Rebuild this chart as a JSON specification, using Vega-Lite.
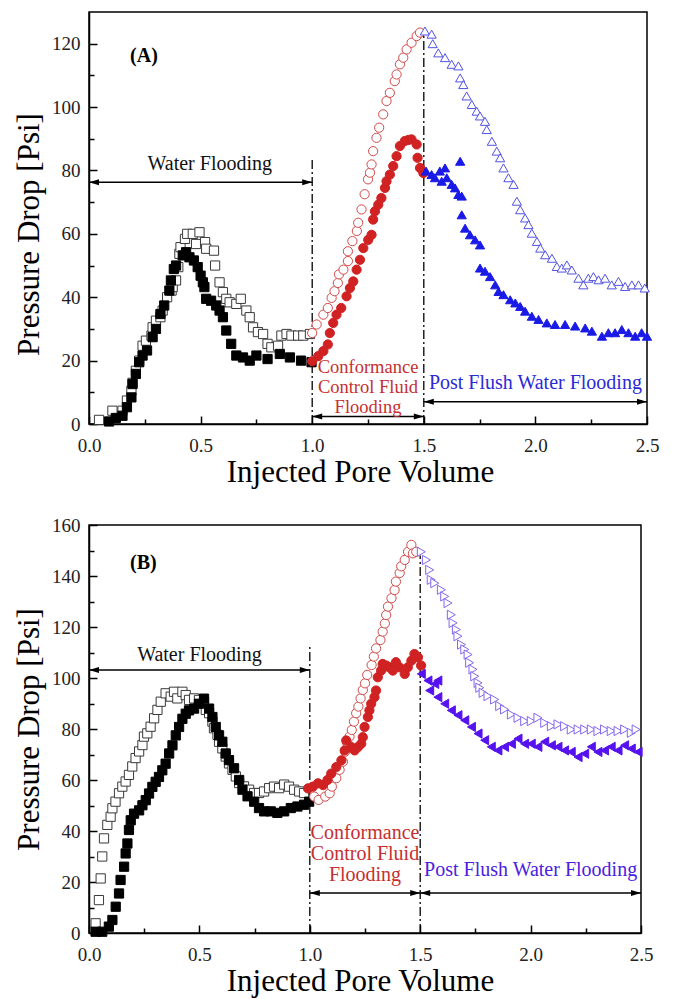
{
  "$schema": "https://vega.github.io/schema/vega-lite/v6.json",
  "padding": {"left": 12, "top": 11, "right": 5, "bottom": 2},
  "spacing": 27,
  "config": {
    "view": {"stroke": "black", "strokeWidth": 1.5},
    "font": "Liberation Serif",
    "axis": {"labelFont": "Liberation Serif", "titleFont": "Liberation Serif"},
    "text": {"font": "Liberation Serif"}
  },
  "resolve": {"scale": {"shape": "independent", "fill": "independent", "stroke": "independent"}},
  "datasets": {
    "A_pts": [
      {"x":0.045,"y":1.3,"s":"sq_o"},{"x":0.105,"y":4.2,"s":"sq_o"},{"x":0.15,"y":4.2,"s":"sq_o"},{"x":0.17,"y":7.4,"s":"sq_o"},{"x":0.19,"y":10.5,"s":"sq_o"},{"x":0.195,"y":13,"s":"sq_o"},{"x":0.21,"y":16.8,"s":"sq_o"},{"x":0.225,"y":20,"s":"sq_o"},{"x":0.24,"y":24.7,"s":"sq_o"},{"x":0.255,"y":26.3,"s":"sq_o"},{"x":0.28,"y":27.9,"s":"sq_o"},{"x":0.285,"y":30.5,"s":"sq_o"},{"x":0.3,"y":32.6,"s":"sq_o"},{"x":0.32,"y":33.7,"s":"sq_o"},{"x":0.33,"y":35.8,"s":"sq_o"},{"x":0.35,"y":40,"s":"sq_o"},{"x":0.37,"y":42.1,"s":"sq_o"},{"x":0.375,"y":43.2,"s":"sq_o"},{"x":0.39,"y":45.3,"s":"sq_o"},{"x":0.4,"y":49.5,"s":"sq_o"},{"x":0.405,"y":53.7,"s":"sq_o"},{"x":0.41,"y":55.8,"s":"sq_o"},{"x":0.43,"y":58.4,"s":"sq_o"},{"x":0.44,"y":60,"s":"sq_o"},{"x":0.465,"y":60,"s":"sq_o"},{"x":0.48,"y":56.8,"s":"sq_o"},{"x":0.495,"y":60.5,"s":"sq_o"},{"x":0.52,"y":57.4,"s":"sq_o"},{"x":0.525,"y":55.3,"s":"sq_o"},{"x":0.56,"y":54.7,"s":"sq_o"},{"x":0.565,"y":50,"s":"sq_o"},{"x":0.585,"y":44.7,"s":"sq_o"},{"x":0.6,"y":41.6,"s":"sq_o"},{"x":0.615,"y":39.5,"s":"sq_o"},{"x":0.63,"y":38.4,"s":"sq_o"},{"x":0.66,"y":37.9,"s":"sq_o"},{"x":0.68,"y":39.5,"s":"sq_o"},{"x":0.705,"y":35.8,"s":"sq_o"},{"x":0.72,"y":33.7,"s":"sq_o"},{"x":0.735,"y":30.5,"s":"sq_o"},{"x":0.757,"y":29,"s":"sq_o"},{"x":0.78,"y":28.4,"s":"sq_o"},{"x":0.8,"y":25.3,"s":"sq_o"},{"x":0.817,"y":24.2,"s":"sq_o"},{"x":0.847,"y":24.7,"s":"sq_o"},{"x":0.862,"y":27.9,"s":"sq_o"},{"x":0.885,"y":28.4,"s":"sq_o"},{"x":0.907,"y":27.9,"s":"sq_o"},{"x":0.937,"y":27.9,"s":"sq_o"},{"x":0.96,"y":27.9,"s":"sq_o"},{"x":0.99,"y":28.4,"s":"sq_o"},
      {"x":0.09,"y":0.8,"s":"sq_f"},{"x":0.12,"y":1.9,"s":"sq_f"},{"x":0.15,"y":2.6,"s":"sq_f"},{"x":0.17,"y":5.3,"s":"sq_f"},{"x":0.19,"y":8.4,"s":"sq_f"},{"x":0.195,"y":12.6,"s":"sq_f"},{"x":0.21,"y":15.8,"s":"sq_f"},{"x":0.225,"y":19.5,"s":"sq_f"},{"x":0.24,"y":21.6,"s":"sq_f"},{"x":0.26,"y":23.2,"s":"sq_f"},{"x":0.285,"y":27.4,"s":"sq_f"},{"x":0.3,"y":30,"s":"sq_f"},{"x":0.32,"y":34.7,"s":"sq_f"},{"x":0.337,"y":37.4,"s":"sq_f"},{"x":0.36,"y":42.1,"s":"sq_f"},{"x":0.367,"y":45.3,"s":"sq_f"},{"x":0.38,"y":48.9,"s":"sq_f"},{"x":0.39,"y":50,"s":"sq_f"},{"x":0.42,"y":53.2,"s":"sq_f"},{"x":0.435,"y":54.2,"s":"sq_f"},{"x":0.45,"y":52.6,"s":"sq_f"},{"x":0.47,"y":51.6,"s":"sq_f"},{"x":0.487,"y":49.5,"s":"sq_f"},{"x":0.5,"y":46.8,"s":"sq_f"},{"x":0.51,"y":44.7,"s":"sq_f"},{"x":0.517,"y":43.2,"s":"sq_f"},{"x":0.525,"y":39.5,"s":"sq_f"},{"x":0.547,"y":38.9,"s":"sq_f"},{"x":0.57,"y":37.4,"s":"sq_f"},{"x":0.585,"y":35.8,"s":"sq_f"},{"x":0.6,"y":33.7,"s":"sq_f"},{"x":0.615,"y":29.5,"s":"sq_f"},{"x":0.637,"y":25.3,"s":"sq_f"},{"x":0.66,"y":21.6,"s":"sq_f"},{"x":0.69,"y":21,"s":"sq_f"},{"x":0.72,"y":20,"s":"sq_f"},{"x":0.75,"y":21.6,"s":"sq_f"},{"x":0.8,"y":20.5,"s":"sq_f"},{"x":0.855,"y":22.1,"s":"sq_f"},{"x":0.9,"y":21,"s":"sq_f"},{"x":0.95,"y":20,"s":"sq_f"},{"x":0.997,"y":19.5,"s":"sq_f"},
      {"x":1.0,"y":28.7,"s":"ci_o"},{"x":1.02,"y":31.4,"s":"ci_o"},{"x":1.05,"y":34.5,"s":"ci_o"},{"x":1.07,"y":36.6,"s":"ci_o"},{"x":1.087,"y":39.8,"s":"ci_o"},{"x":1.1,"y":41.9,"s":"ci_o"},{"x":1.115,"y":44.5,"s":"ci_o"},{"x":1.12,"y":47.2,"s":"ci_o"},{"x":1.14,"y":48.7,"s":"ci_o"},{"x":1.16,"y":51.4,"s":"ci_o"},{"x":1.16,"y":54.5,"s":"ci_o"},{"x":1.18,"y":57.7,"s":"ci_o"},{"x":1.2,"y":60.9,"s":"ci_o"},{"x":1.206,"y":63.5,"s":"ci_o"},{"x":1.221,"y":67.7,"s":"ci_o"},{"x":1.235,"y":72.5,"s":"ci_o"},{"x":1.25,"y":77.2,"s":"ci_o"},{"x":1.259,"y":79.3,"s":"ci_o"},{"x":1.266,"y":81.9,"s":"ci_o"},{"x":1.273,"y":86.1,"s":"ci_o"},{"x":1.288,"y":90.3,"s":"ci_o"},{"x":1.3,"y":93.5,"s":"ci_o"},{"x":1.318,"y":97.7,"s":"ci_o"},{"x":1.333,"y":101.9,"s":"ci_o"},{"x":1.348,"y":104.5,"s":"ci_o"},{"x":1.37,"y":108.2,"s":"ci_o"},{"x":1.378,"y":110.3,"s":"ci_o"},{"x":1.393,"y":113.5,"s":"ci_o"},{"x":1.408,"y":115.6,"s":"ci_o"},{"x":1.423,"y":118.2,"s":"ci_o"},{"x":1.445,"y":120.3,"s":"ci_o"},{"x":1.468,"y":122.4,"s":"ci_o"},{"x":1.483,"y":123.5,"s":"ci_o"},
      {"x":1.0,"y":19.8,"s":"ci_f"},{"x":1.027,"y":21.4,"s":"ci_f"},{"x":1.05,"y":23,"s":"ci_f"},{"x":1.07,"y":25.1,"s":"ci_f"},{"x":1.079,"y":28.7,"s":"ci_f"},{"x":1.094,"y":31.9,"s":"ci_f"},{"x":1.109,"y":34.5,"s":"ci_f"},{"x":1.13,"y":36.6,"s":"ci_f"},{"x":1.154,"y":40.3,"s":"ci_f"},{"x":1.169,"y":42.9,"s":"ci_f"},{"x":1.184,"y":45,"s":"ci_f"},{"x":1.199,"y":48.7,"s":"ci_f"},{"x":1.214,"y":51.8,"s":"ci_f"},{"x":1.229,"y":55.5,"s":"ci_f"},{"x":1.251,"y":58.1,"s":"ci_f"},{"x":1.266,"y":59.7,"s":"ci_f"},{"x":1.273,"y":64.5,"s":"ci_f"},{"x":1.281,"y":67.1,"s":"ci_f"},{"x":1.296,"y":69.2,"s":"ci_f"},{"x":1.31,"y":71.3,"s":"ci_f"},{"x":1.326,"y":74.5,"s":"ci_f"},{"x":1.333,"y":76.6,"s":"ci_f"},{"x":1.348,"y":78.7,"s":"ci_f"},{"x":1.363,"y":81.4,"s":"ci_f"},{"x":1.378,"y":84.5,"s":"ci_f"},{"x":1.393,"y":87.7,"s":"ci_f"},{"x":1.415,"y":89.3,"s":"ci_f"},{"x":1.43,"y":89.6,"s":"ci_f"},{"x":1.445,"y":89.8,"s":"ci_f"},{"x":1.468,"y":88.2,"s":"ci_f"},{"x":1.472,"y":84,"s":"ci_f"},{"x":1.483,"y":80.8,"s":"ci_f"},{"x":1.498,"y":79.2,"s":"ci_f"},
      {"x":1.505,"y":124,"s":"tr_o"},{"x":1.535,"y":123,"s":"tr_o"},{"x":1.54,"y":120,"s":"tr_o"},{"x":1.565,"y":117.1,"s":"tr_o"},{"x":1.595,"y":115.6,"s":"tr_o"},{"x":1.625,"y":113.5,"s":"tr_o"},{"x":1.655,"y":113,"s":"tr_o"},{"x":1.663,"y":109.2,"s":"tr_o"},{"x":1.677,"y":107.1,"s":"tr_o"},{"x":1.692,"y":103.5,"s":"tr_o"},{"x":1.715,"y":100.8,"s":"tr_o"},{"x":1.737,"y":98.7,"s":"tr_o"},{"x":1.752,"y":97.2,"s":"tr_o"},{"x":1.774,"y":95.5,"s":"tr_o"},{"x":1.782,"y":92.9,"s":"tr_o"},{"x":1.805,"y":89.2,"s":"tr_o"},{"x":1.827,"y":86.1,"s":"tr_o"},{"x":1.842,"y":84,"s":"tr_o"},{"x":1.857,"y":80.8,"s":"tr_o"},{"x":1.879,"y":77.7,"s":"tr_o"},{"x":1.902,"y":75.6,"s":"tr_o"},{"x":1.917,"y":70.3,"s":"tr_o"},{"x":1.932,"y":67.6,"s":"tr_o"},{"x":1.954,"y":65,"s":"tr_o"},{"x":1.969,"y":62.9,"s":"tr_o"},{"x":1.984,"y":60.2,"s":"tr_o"},{"x":2.007,"y":57.6,"s":"tr_o"},{"x":2.022,"y":55.5,"s":"tr_o"},{"x":2.044,"y":53.4,"s":"tr_o"},{"x":2.074,"y":52.3,"s":"tr_o"},{"x":2.096,"y":49.7,"s":"tr_o"},{"x":2.118,"y":49.2,"s":"tr_o"},{"x":2.141,"y":50.2,"s":"tr_o"},{"x":2.163,"y":48.6,"s":"tr_o"},{"x":2.193,"y":46,"s":"tr_o"},{"x":2.215,"y":43.9,"s":"tr_o"},{"x":2.237,"y":46,"s":"tr_o"},{"x":2.26,"y":46.5,"s":"tr_o"},{"x":2.283,"y":45.5,"s":"tr_o"},{"x":2.312,"y":46,"s":"tr_o"},{"x":2.342,"y":43.9,"s":"tr_o"},{"x":2.372,"y":45,"s":"tr_o"},{"x":2.402,"y":43.4,"s":"tr_o"},{"x":2.432,"y":43.9,"s":"tr_o"},{"x":2.462,"y":43.9,"s":"tr_o"},{"x":2.49,"y":42.9,"s":"tr_o"},
      {"x":1.51,"y":79.8,"s":"tr_f"},{"x":1.535,"y":78.7,"s":"tr_f"},{"x":1.55,"y":77.7,"s":"tr_f"},{"x":1.572,"y":79.8,"s":"tr_f"},{"x":1.58,"y":76.6,"s":"tr_f"},{"x":1.595,"y":80.8,"s":"tr_f"},{"x":1.603,"y":77.7,"s":"tr_f"},{"x":1.625,"y":75.6,"s":"tr_f"},{"x":1.64,"y":74.5,"s":"tr_f"},{"x":1.655,"y":72.4,"s":"tr_f"},{"x":1.663,"y":82.9,"s":"tr_f"},{"x":1.67,"y":71.9,"s":"tr_f"},{"x":1.67,"y":66,"s":"tr_f"},{"x":1.685,"y":61.8,"s":"tr_f"},{"x":1.707,"y":59.7,"s":"tr_f"},{"x":1.73,"y":58.1,"s":"tr_f"},{"x":1.752,"y":56.5,"s":"tr_f"},{"x":1.752,"y":49.2,"s":"tr_f"},{"x":1.774,"y":48.2,"s":"tr_f"},{"x":1.797,"y":46.5,"s":"tr_f"},{"x":1.82,"y":43.9,"s":"tr_f"},{"x":1.835,"y":41.8,"s":"tr_f"},{"x":1.857,"y":40.8,"s":"tr_f"},{"x":1.887,"y":39.2,"s":"tr_f"},{"x":1.91,"y":38.2,"s":"tr_f"},{"x":1.932,"y":37.1,"s":"tr_f"},{"x":1.954,"y":35.6,"s":"tr_f"},{"x":1.984,"y":34,"s":"tr_f"},{"x":2.014,"y":33,"s":"tr_f"},{"x":2.051,"y":31.9,"s":"tr_f"},{"x":2.088,"y":31.4,"s":"tr_f"},{"x":2.133,"y":31.4,"s":"tr_f"},{"x":2.178,"y":30.9,"s":"tr_f"},{"x":2.223,"y":30.3,"s":"tr_f"},{"x":2.253,"y":29.3,"s":"tr_f"},{"x":2.298,"y":27.7,"s":"tr_f"},{"x":2.327,"y":28.8,"s":"tr_f"},{"x":2.357,"y":28.8,"s":"tr_f"},{"x":2.387,"y":29.8,"s":"tr_f"},{"x":2.417,"y":28.8,"s":"tr_f"},{"x":2.447,"y":27.7,"s":"tr_f"},{"x":2.476,"y":28.8,"s":"tr_f"},{"x":2.5,"y":27.7,"s":"tr_f"}
    ],
    "B_pts": [
      {"x":0.03,"y":3.8,"s":"sq_o"},{"x":0.045,"y":12.9,"s":"sq_o"},{"x":0.053,"y":21.4,"s":"sq_o"},{"x":0.06,"y":30,"s":"sq_o"},{"x":0.068,"y":37.1,"s":"sq_o"},{"x":0.083,"y":42.4,"s":"sq_o"},{"x":0.098,"y":45.6,"s":"sq_o"},{"x":0.106,"y":48.9,"s":"sq_o"},{"x":0.12,"y":51.5,"s":"sq_o"},{"x":0.136,"y":54.8,"s":"sq_o"},{"x":0.151,"y":57.4,"s":"sq_o"},{"x":0.166,"y":59.4,"s":"sq_o"},{"x":0.181,"y":62,"s":"sq_o"},{"x":0.196,"y":65.3,"s":"sq_o"},{"x":0.211,"y":68.6,"s":"sq_o"},{"x":0.227,"y":71.2,"s":"sq_o"},{"x":0.242,"y":73.7,"s":"sq_o"},{"x":0.249,"y":77,"s":"sq_o"},{"x":0.264,"y":78.3,"s":"sq_o"},{"x":0.279,"y":80.9,"s":"sq_o"},{"x":0.295,"y":84.2,"s":"sq_o"},{"x":0.31,"y":87.5,"s":"sq_o"},{"x":0.325,"y":90.7,"s":"sq_o"},{"x":0.347,"y":94,"s":"sq_o"},{"x":0.37,"y":92.7,"s":"sq_o"},{"x":0.385,"y":94.6,"s":"sq_o"},{"x":0.4,"y":92,"s":"sq_o"},{"x":0.423,"y":94.6,"s":"sq_o"},{"x":0.438,"y":93.3,"s":"sq_o"},{"x":0.453,"y":91.4,"s":"sq_o"},{"x":0.476,"y":92,"s":"sq_o"},{"x":0.498,"y":91.4,"s":"sq_o"},{"x":0.521,"y":90.7,"s":"sq_o"},{"x":0.529,"y":87.5,"s":"sq_o"},{"x":0.544,"y":86.2,"s":"sq_o"},{"x":0.559,"y":82.9,"s":"sq_o"},{"x":0.566,"y":80.3,"s":"sq_o"},{"x":0.582,"y":77.7,"s":"sq_o"},{"x":0.589,"y":75,"s":"sq_o"},{"x":0.604,"y":72.4,"s":"sq_o"},{"x":0.619,"y":69.2,"s":"sq_o"},{"x":0.634,"y":66.5,"s":"sq_o"},{"x":0.65,"y":64,"s":"sq_o"},{"x":0.665,"y":61.4,"s":"sq_o"},{"x":0.68,"y":58.8,"s":"sq_o"},{"x":0.702,"y":57.5,"s":"sq_o"},{"x":0.725,"y":56.2,"s":"sq_o"},{"x":0.748,"y":54.9,"s":"sq_o"},{"x":0.77,"y":54.9,"s":"sq_o"},{"x":0.793,"y":55.5,"s":"sq_o"},{"x":0.816,"y":56.8,"s":"sq_o"},{"x":0.838,"y":57.4,"s":"sq_o"},{"x":0.861,"y":56.8,"s":"sq_o"},{"x":0.884,"y":58.2,"s":"sq_o"},{"x":0.906,"y":57.4,"s":"sq_o"},{"x":0.929,"y":56.2,"s":"sq_o"},{"x":0.952,"y":55.5,"s":"sq_o"},{"x":0.974,"y":54.9,"s":"sq_o"},
      {"x":0.03,"y":0.5,"s":"sq_f"},{"x":0.06,"y":0.5,"s":"sq_f"},{"x":0.09,"y":2.5,"s":"sq_f"},{"x":0.106,"y":5.1,"s":"sq_f"},{"x":0.121,"y":10.3,"s":"sq_f"},{"x":0.136,"y":15.5,"s":"sq_f"},{"x":0.143,"y":20.8,"s":"sq_f"},{"x":0.159,"y":26,"s":"sq_f"},{"x":0.166,"y":31.2,"s":"sq_f"},{"x":0.174,"y":35.1,"s":"sq_f"},{"x":0.181,"y":40.4,"s":"sq_f"},{"x":0.189,"y":44.2,"s":"sq_f"},{"x":0.204,"y":46.8,"s":"sq_f"},{"x":0.227,"y":48.1,"s":"sq_f"},{"x":0.242,"y":50.1,"s":"sq_f"},{"x":0.257,"y":52.1,"s":"sq_f"},{"x":0.272,"y":54.7,"s":"sq_f"},{"x":0.287,"y":57.3,"s":"sq_f"},{"x":0.302,"y":59.3,"s":"sq_f"},{"x":0.317,"y":61.2,"s":"sq_f"},{"x":0.332,"y":63.8,"s":"sq_f"},{"x":0.347,"y":66.4,"s":"sq_f"},{"x":0.363,"y":70.4,"s":"sq_f"},{"x":0.378,"y":73.6,"s":"sq_f"},{"x":0.393,"y":77.5,"s":"sq_f"},{"x":0.408,"y":80.8,"s":"sq_f"},{"x":0.423,"y":84,"s":"sq_f"},{"x":0.438,"y":86,"s":"sq_f"},{"x":0.453,"y":87.3,"s":"sq_f"},{"x":0.476,"y":88,"s":"sq_f"},{"x":0.498,"y":89.9,"s":"sq_f"},{"x":0.521,"y":91.9,"s":"sq_f"},{"x":0.544,"y":88,"s":"sq_f"},{"x":0.559,"y":84.7,"s":"sq_f"},{"x":0.574,"y":80.8,"s":"sq_f"},{"x":0.589,"y":77.5,"s":"sq_f"},{"x":0.604,"y":75,"s":"sq_f"},{"x":0.619,"y":70.4,"s":"sq_f"},{"x":0.634,"y":67.8,"s":"sq_f"},{"x":0.657,"y":64.6,"s":"sq_f"},{"x":0.68,"y":60,"s":"sq_f"},{"x":0.695,"y":56.2,"s":"sq_f"},{"x":0.718,"y":53.6,"s":"sq_f"},{"x":0.748,"y":51.5,"s":"sq_f"},{"x":0.77,"y":49,"s":"sq_f"},{"x":0.793,"y":47.7,"s":"sq_f"},{"x":0.823,"y":47.7,"s":"sq_f"},{"x":0.853,"y":47.1,"s":"sq_f"},{"x":0.884,"y":47.7,"s":"sq_f"},{"x":0.914,"y":49,"s":"sq_f"},{"x":0.944,"y":49.6,"s":"sq_f"},{"x":0.974,"y":50.3,"s":"sq_f"},{"x":0.997,"y":51.5,"s":"sq_f"},
      {"x":1.02,"y":53.5,"s":"ci_o"},{"x":1.04,"y":52.2,"s":"ci_o"},{"x":1.07,"y":53.5,"s":"ci_o"},{"x":1.09,"y":54.8,"s":"ci_o"},{"x":1.1,"y":57.4,"s":"ci_o"},{"x":1.12,"y":60.7,"s":"ci_o"},{"x":1.135,"y":64,"s":"ci_o"},{"x":1.15,"y":67.2,"s":"ci_o"},{"x":1.16,"y":71.1,"s":"ci_o"},{"x":1.17,"y":74.4,"s":"ci_o"},{"x":1.18,"y":77,"s":"ci_o"},{"x":1.19,"y":79.6,"s":"ci_o"},{"x":1.2,"y":82.9,"s":"ci_o"},{"x":1.21,"y":86.2,"s":"ci_o"},{"x":1.22,"y":88.8,"s":"ci_o"},{"x":1.23,"y":92,"s":"ci_o"},{"x":1.24,"y":95.3,"s":"ci_o"},{"x":1.25,"y":97.9,"s":"ci_o"},{"x":1.26,"y":101.2,"s":"ci_o"},{"x":1.28,"y":105.1,"s":"ci_o"},{"x":1.29,"y":108.4,"s":"ci_o"},{"x":1.3,"y":111.6,"s":"ci_o"},{"x":1.32,"y":114.9,"s":"ci_o"},{"x":1.33,"y":118.2,"s":"ci_o"},{"x":1.34,"y":121.4,"s":"ci_o"},{"x":1.346,"y":124.7,"s":"ci_o"},{"x":1.354,"y":128,"s":"ci_o"},{"x":1.37,"y":131.3,"s":"ci_o"},{"x":1.384,"y":134.5,"s":"ci_o"},{"x":1.39,"y":137.8,"s":"ci_o"},{"x":1.407,"y":141.2,"s":"ci_o"},{"x":1.414,"y":143.8,"s":"ci_o"},{"x":1.43,"y":146.3,"s":"ci_o"},{"x":1.445,"y":149.5,"s":"ci_o"},{"x":1.46,"y":152.2,"s":"ci_o"},{"x":1.467,"y":148.9,"s":"ci_o"},{"x":1.482,"y":149.5,"s":"ci_o"},
      {"x":0.992,"y":56.7,"s":"ci_f"},{"x":1.014,"y":57.4,"s":"ci_f"},{"x":1.037,"y":58.7,"s":"ci_f"},{"x":1.06,"y":58,"s":"ci_f"},{"x":1.08,"y":60,"s":"ci_f"},{"x":1.097,"y":62.5,"s":"ci_f"},{"x":1.12,"y":65.1,"s":"ci_f"},{"x":1.143,"y":67.7,"s":"ci_f"},{"x":1.158,"y":71.6,"s":"ci_f"},{"x":1.165,"y":75.5,"s":"ci_f"},{"x":1.188,"y":72.9,"s":"ci_f"},{"x":1.203,"y":71.6,"s":"ci_f"},{"x":1.218,"y":72.9,"s":"ci_f"},{"x":1.233,"y":74.2,"s":"ci_f"},{"x":1.24,"y":76.8,"s":"ci_f"},{"x":1.248,"y":80.8,"s":"ci_f"},{"x":1.263,"y":84.7,"s":"ci_f"},{"x":1.27,"y":87.3,"s":"ci_f"},{"x":1.278,"y":89.9,"s":"ci_f"},{"x":1.293,"y":92.5,"s":"ci_f"},{"x":1.3,"y":95.1,"s":"ci_f"},{"x":1.308,"y":100.3,"s":"ci_f"},{"x":1.323,"y":102.9,"s":"ci_f"},{"x":1.33,"y":105.5,"s":"ci_f"},{"x":1.346,"y":104.9,"s":"ci_f"},{"x":1.36,"y":104.2,"s":"ci_f"},{"x":1.376,"y":102.9,"s":"ci_f"},{"x":1.39,"y":106.2,"s":"ci_f"},{"x":1.406,"y":104.2,"s":"ci_f"},{"x":1.43,"y":101.6,"s":"ci_f"},{"x":1.444,"y":104.2,"s":"ci_f"},{"x":1.46,"y":106.8,"s":"ci_f"},{"x":1.474,"y":109.4,"s":"ci_f"},{"x":1.49,"y":108.1,"s":"ci_f"},{"x":1.504,"y":104.9,"s":"ci_f"},
      {"x":1.505,"y":149.5,"s":"tr_o"},{"x":1.528,"y":146.3,"s":"tr_o"},{"x":1.543,"y":142.4,"s":"tr_o"},{"x":1.55,"y":138.5,"s":"tr_o"},{"x":1.566,"y":137.2,"s":"tr_o"},{"x":1.596,"y":134.6,"s":"tr_o"},{"x":1.611,"y":132,"s":"tr_o"},{"x":1.626,"y":129.4,"s":"tr_o"},{"x":1.641,"y":124.8,"s":"tr_o"},{"x":1.649,"y":121.6,"s":"tr_o"},{"x":1.664,"y":119,"s":"tr_o"},{"x":1.671,"y":116.4,"s":"tr_o"},{"x":1.687,"y":113.1,"s":"tr_o"},{"x":1.702,"y":111.2,"s":"tr_o"},{"x":1.717,"y":109.2,"s":"tr_o"},{"x":1.724,"y":106,"s":"tr_o"},{"x":1.739,"y":103.4,"s":"tr_o"},{"x":1.747,"y":100.7,"s":"tr_o"},{"x":1.762,"y":98.1,"s":"tr_o"},{"x":1.77,"y":96.2,"s":"tr_o"},{"x":1.785,"y":94.2,"s":"tr_o"},{"x":1.807,"y":92.9,"s":"tr_o"},{"x":1.837,"y":91.6,"s":"tr_o"},{"x":1.86,"y":89,"s":"tr_o"},{"x":1.882,"y":87.7,"s":"tr_o"},{"x":1.913,"y":85.7,"s":"tr_o"},{"x":1.943,"y":84.4,"s":"tr_o"},{"x":1.973,"y":83.1,"s":"tr_o"},{"x":2.003,"y":83.1,"s":"tr_o"},{"x":2.033,"y":84.4,"s":"tr_o"},{"x":2.064,"y":82.4,"s":"tr_o"},{"x":2.094,"y":81.1,"s":"tr_o"},{"x":2.124,"y":81.8,"s":"tr_o"},{"x":2.154,"y":81.1,"s":"tr_o"},{"x":2.184,"y":79.8,"s":"tr_o"},{"x":2.215,"y":79.8,"s":"tr_o"},{"x":2.245,"y":79.8,"s":"tr_o"},{"x":2.275,"y":79.8,"s":"tr_o"},{"x":2.305,"y":79.2,"s":"tr_o"},{"x":2.335,"y":79.8,"s":"tr_o"},{"x":2.365,"y":79.2,"s":"tr_o"},{"x":2.396,"y":79.2,"s":"tr_o"},{"x":2.426,"y":79.8,"s":"tr_o"},{"x":2.456,"y":78.5,"s":"tr_o"},{"x":2.478,"y":79.8,"s":"tr_o"},
      {"x":1.505,"y":101.6,"s":"tr_f"},{"x":1.535,"y":99,"s":"tr_f"},{"x":1.543,"y":95.1,"s":"tr_f"},{"x":1.566,"y":97.7,"s":"tr_f"},{"x":1.58,"y":99,"s":"tr_f"},{"x":1.58,"y":92.5,"s":"tr_f"},{"x":1.611,"y":89.9,"s":"tr_f"},{"x":1.641,"y":87.3,"s":"tr_f"},{"x":1.671,"y":85.4,"s":"tr_f"},{"x":1.702,"y":83.4,"s":"tr_f"},{"x":1.732,"y":80.8,"s":"tr_f"},{"x":1.762,"y":78.2,"s":"tr_f"},{"x":1.792,"y":75.6,"s":"tr_f"},{"x":1.822,"y":73,"s":"tr_f"},{"x":1.852,"y":71.6,"s":"tr_f"},{"x":1.882,"y":73,"s":"tr_f"},{"x":1.913,"y":74.2,"s":"tr_f"},{"x":1.943,"y":76.2,"s":"tr_f"},{"x":1.973,"y":74.2,"s":"tr_f"},{"x":2.003,"y":74.2,"s":"tr_f"},{"x":2.033,"y":73,"s":"tr_f"},{"x":2.064,"y":75,"s":"tr_f"},{"x":2.094,"y":73.6,"s":"tr_f"},{"x":2.124,"y":73,"s":"tr_f"},{"x":2.154,"y":71.6,"s":"tr_f"},{"x":2.184,"y":71,"s":"tr_f"},{"x":2.215,"y":69,"s":"tr_f"},{"x":2.245,"y":70.3,"s":"tr_f"},{"x":2.275,"y":73,"s":"tr_f"},{"x":2.305,"y":71,"s":"tr_f"},{"x":2.335,"y":71.6,"s":"tr_f"},{"x":2.365,"y":73,"s":"tr_f"},{"x":2.396,"y":71.6,"s":"tr_f"},{"x":2.426,"y":73.6,"s":"tr_f"},{"x":2.456,"y":72.3,"s":"tr_f"},{"x":2.487,"y":71,"s":"tr_f"}
    ],
    "A_vlines": [{"x":1.0,"y1":0,"y2":84},{"x":1.5,"y1":0,"y2":124}],
    "B_vlines": [{"x":1.0,"y1":0,"y2":113},{"x":1.5,"y1":0,"y2":148}],
    "A_arrows": [{"x1":0,"x2":1.0,"y":76.3},{"x1":1.0,"x2":1.5,"y":2.4},{"x1":1.5,"x2":2.5,"y":7}],
    "B_arrows": [{"x1":0,"x2":1.0,"y":103.1},{"x1":1.0,"x2":1.5,"y":15.7},{"x1":1.5,"x2":2.5,"y":15.7}],
    "A_black": [{"x":0.541,"y":82,"t":"Water Flooding"}],
    "A_red": [{"x":1.25,"y":17.9,"t":["Conformance","Control Fluid","Flooding"]}],
    "A_blue": [{"x":2.0,"y":12.8,"t":"Post Flush Water Flooding"}],
    "A_lab": [{"x":0.184,"y":116,"t":"(A)"}],
    "B_black": [{"x":0.5,"y":109,"t":"Water Flooding"}],
    "B_red": [{"x":1.25,"y":39.2,"t":["Conformance","Control Fluid","Flooding"]}],
    "B_blue": [{"x":2.0,"y":24.7,"t":"Post Flush Water Flooding"}],
    "B_lab": [{"x":0.186,"y":145,"t":"(B)"}]
  },
  "vconcat": [
    {
      "width": 558,
      "height": 412,
      "resolve": {"axis": {"x": "independent", "y": "independent"}},
      "layer": [
        {
          "data": {"name": "A_vlines"},
          "mark": {"type": "rule", "color": "black", "strokeWidth": 1.3, "strokeDash": [9, 3, 2, 3]},
          "encoding": {
            "x": {"field": "x", "type": "quantitative", "scale": {"domain": [0, 2.5], "nice": false, "zero": false},
                  "axis": {"orient": "bottom", "values": [0.25, 0.75, 1.25, 1.75, 2.25], "labels": false, "title": null, "domain": false, "grid": false, "tickSize": -5, "tickColor": "black", "tickWidth": 1.5}},
            "y": {"field": "y1", "type": "quantitative", "scale": {"domain": [0, 130], "nice": false},
                  "axis": {"orient": "left", "values": [10, 30, 50, 70, 90, 110], "labels": false, "title": null, "domain": false, "grid": false, "tickSize": -5, "tickColor": "black", "tickWidth": 1.5}},
            "y2": {"field": "y2"}
          }
        },
        {
          "data": {"name": "A_pts"},
          "mark": {"type": "point", "filled": true, "size": 85, "strokeWidth": 1, "opacity": 1},
          "encoding": {
            "x": {"field": "x", "type": "quantitative", "scale": {"domain": [0, 2.5], "nice": false, "zero": false},
                  "axis": {"orient": "bottom", "values": [0, 0.5, 1, 1.5, 2, 2.5], "format": ".1f", "title": "Injected Pore Volume", "titleX": 271, "grid": false, "domainColor": "black", "domainWidth": 1.5, "tickSize": -8, "tickColor": "black", "tickWidth": 1.5, "labelPadding": 20, "labelFont": "Liberation Serif", "labelFontSize": 19, "labelColor": "#222", "labelFlush": false, "labelOverlap": false, "titleFont": "Liberation Serif", "titleFontSize": 31, "titleFontWeight": "normal", "titleColor": "black", "titlePadding": 2}},
            "y": {"field": "y", "type": "quantitative", "scale": {"domain": [0, 130], "nice": false},
                  "axis": {"orient": "left", "values": [0, 20, 40, 60, 80, 100, 120], "title": "Pressure Drop [Psi]", "titleY": 222, "grid": false, "domainColor": "black", "domainWidth": 1.5, "tickSize": -8, "tickColor": "black", "tickWidth": 1.5, "labelPadding": 17, "labelFont": "Liberation Serif", "labelFontSize": 19, "labelColor": "#222", "labelFlush": false, "labelOverlap": false, "titleFont": "Liberation Serif", "titleFontSize": 31, "titleFontWeight": "normal", "titleColor": "black", "titlePadding": 6}},
            "shape": {"field": "s", "type": "nominal", "legend": null,
                      "scale": {"domain": ["sq_o", "sq_f", "ci_o", "ci_f", "tr_o", "tr_f"], "range": ["square", "square", "circle", "circle", "triangle-up", "triangle-up"]}},
            "fill": {"field": "s", "type": "nominal", "legend": null,
                     "scale": {"domain": ["sq_o", "sq_f", "ci_o", "ci_f", "tr_o", "tr_f"], "range": ["white", "black", "white", "#d02222", "white", "#1a1ae6"]}},
            "stroke": {"field": "s", "type": "nominal", "legend": null,
                       "scale": {"domain": ["sq_o", "sq_f", "ci_o", "ci_f", "tr_o", "tr_f"], "range": ["#3a3a3a", "black", "#d24a4a", "#d02222", "#5252e0", "#1a1ae6"]}}
          }
        },
        {
          "data": {"name": "A_arrows"},
          "mark": {"type": "rule", "color": "black", "strokeWidth": 1.5},
          "encoding": {
            "x": {"field": "x1", "type": "quantitative", "axis": null},
            "x2": {"field": "x2"},
            "y": {"field": "y", "type": "quantitative", "axis": null}
          }
        },
        {
          "data": {"name": "A_arrows"},
          "mark": {"type": "point", "shape": "M0,0L2,-0.6L2,0.6Z", "filled": true, "color": "black", "size": 100, "opacity": 1},
          "encoding": {
            "x": {"field": "x1", "type": "quantitative", "axis": null},
            "y": {"field": "y", "type": "quantitative", "axis": null}
          }
        },
        {
          "data": {"name": "A_arrows"},
          "mark": {"type": "point", "shape": "M0,0L-2,-0.6L-2,0.6Z", "filled": true, "color": "black", "size": 100, "opacity": 1},
          "encoding": {
            "x": {"field": "x2", "type": "quantitative", "axis": null},
            "y": {"field": "y", "type": "quantitative", "axis": null}
          }
        },
        {
          "data": {"name": "A_black"},
          "mark": {"type": "text", "font": "Liberation Serif", "fontSize": 20, "color": "#111", "align": "center", "baseline": "middle"},
          "encoding": {
            "x": {"field": "x", "type": "quantitative", "axis": null},
            "y": {"field": "y", "type": "quantitative", "axis": null},
            "text": {"field": "t"}
          }
        },
        {
          "data": {"name": "A_red"},
          "mark": {"type": "text", "font": "Liberation Serif", "fontSize": 18.5, "lineHeight": 20, "color": "#c62f2f", "align": "center", "baseline": "middle"},
          "encoding": {
            "x": {"field": "x", "type": "quantitative", "axis": null},
            "y": {"field": "y", "type": "quantitative", "axis": null},
            "text": {"field": "t"}
          }
        },
        {
          "data": {"name": "A_blue"},
          "mark": {"type": "text", "font": "Liberation Serif", "fontSize": 20, "color": "#2a2ad6", "align": "center", "baseline": "middle"},
          "encoding": {
            "x": {"field": "x", "type": "quantitative", "axis": null},
            "y": {"field": "y", "type": "quantitative", "axis": null},
            "text": {"field": "t"}
          }
        },
        {
          "data": {"name": "A_lab"},
          "mark": {"type": "text", "font": "Liberation Serif", "fontSize": 20, "fontWeight": "bold", "color": "black", "align": "left", "baseline": "middle"},
          "encoding": {
            "x": {"field": "x", "type": "quantitative", "axis": null},
            "y": {"field": "y", "type": "quantitative", "axis": null},
            "text": {"field": "t"}
          }
        }
      ]
    },
    {
      "width": 552,
      "height": 408,
      "resolve": {"axis": {"x": "independent", "y": "independent"}},
      "layer": [
        {
          "data": {"name": "B_vlines"},
          "mark": {"type": "rule", "color": "black", "strokeWidth": 1.3, "strokeDash": [9, 3, 2, 3]},
          "encoding": {
            "x": {"field": "x", "type": "quantitative", "scale": {"domain": [0, 2.5], "nice": false, "zero": false},
                  "axis": {"orient": "bottom", "values": [0.25, 0.75, 1.25, 1.75, 2.25], "labels": false, "title": null, "domain": false, "grid": false, "tickSize": -5, "tickColor": "black", "tickWidth": 1.5}},
            "y": {"field": "y1", "type": "quantitative", "scale": {"domain": [0, 160], "nice": false},
                  "axis": {"orient": "left", "values": [10, 30, 50, 70, 90, 110, 130, 150], "labels": false, "title": null, "domain": false, "grid": false, "tickSize": -5, "tickColor": "black", "tickWidth": 1.5}},
            "y2": {"field": "y2"}
          }
        },
        {
          "data": {"name": "B_pts"},
          "mark": {"type": "point", "filled": true, "size": 85, "strokeWidth": 1, "opacity": 1},
          "encoding": {
            "x": {"field": "x", "type": "quantitative", "scale": {"domain": [0, 2.5], "nice": false, "zero": false},
                  "axis": {"orient": "bottom", "values": [0, 0.5, 1, 1.5, 2, 2.5], "format": ".1f", "title": "Injected Pore Volume", "titleX": 271, "grid": false, "domainColor": "black", "domainWidth": 1.5, "tickSize": -8, "tickColor": "black", "tickWidth": 1.5, "labelPadding": 20, "labelFont": "Liberation Serif", "labelFontSize": 19, "labelColor": "#222", "labelFlush": false, "labelOverlap": false, "titleFont": "Liberation Serif", "titleFontSize": 31, "titleFontWeight": "normal", "titleColor": "black", "titlePadding": 2}},
            "y": {"field": "y", "type": "quantitative", "scale": {"domain": [0, 160], "nice": false},
                  "axis": {"orient": "left", "values": [0, 20, 40, 60, 80, 100, 120, 140, 160], "title": "Pressure Drop [Psi]", "grid": false, "domainColor": "black", "domainWidth": 1.5, "tickSize": -8, "tickColor": "black", "tickWidth": 1.5, "labelPadding": 17, "labelFont": "Liberation Serif", "labelFontSize": 19, "labelColor": "#222", "labelFlush": false, "labelOverlap": false, "titleFont": "Liberation Serif", "titleFontSize": 31, "titleFontWeight": "normal", "titleColor": "black", "titlePadding": 6}},
            "shape": {"field": "s", "type": "nominal", "legend": null,
                      "scale": {"domain": ["sq_o", "sq_f", "ci_o", "ci_f", "tr_o", "tr_f"], "range": ["square", "square", "circle", "circle", "triangle-right", "triangle-left"]}},
            "fill": {"field": "s", "type": "nominal", "legend": null,
                     "scale": {"domain": ["sq_o", "sq_f", "ci_o", "ci_f", "tr_o", "tr_f"], "range": ["white", "black", "white", "#d02222", "white", "#5512ee"]}},
            "stroke": {"field": "s", "type": "nominal", "legend": null,
                       "scale": {"domain": ["sq_o", "sq_f", "ci_o", "ci_f", "tr_o", "tr_f"], "range": ["#3a3a3a", "black", "#d24a4a", "#d02222", "#8366ee", "#5512ee"]}}
          }
        },
        {
          "data": {"name": "B_arrows"},
          "mark": {"type": "rule", "color": "black", "strokeWidth": 1.5},
          "encoding": {
            "x": {"field": "x1", "type": "quantitative", "axis": null},
            "x2": {"field": "x2"},
            "y": {"field": "y", "type": "quantitative", "axis": null}
          }
        },
        {
          "data": {"name": "B_arrows"},
          "mark": {"type": "point", "shape": "M0,0L2,-0.6L2,0.6Z", "filled": true, "color": "black", "size": 100, "opacity": 1},
          "encoding": {
            "x": {"field": "x1", "type": "quantitative", "axis": null},
            "y": {"field": "y", "type": "quantitative", "axis": null}
          }
        },
        {
          "data": {"name": "B_arrows"},
          "mark": {"type": "point", "shape": "M0,0L-2,-0.6L-2,0.6Z", "filled": true, "color": "black", "size": 100, "opacity": 1},
          "encoding": {
            "x": {"field": "x2", "type": "quantitative", "axis": null},
            "y": {"field": "y", "type": "quantitative", "axis": null}
          }
        },
        {
          "data": {"name": "B_black"},
          "mark": {"type": "text", "font": "Liberation Serif", "fontSize": 20, "color": "#111", "align": "center", "baseline": "middle"},
          "encoding": {
            "x": {"field": "x", "type": "quantitative", "axis": null},
            "y": {"field": "y", "type": "quantitative", "axis": null},
            "text": {"field": "t"}
          }
        },
        {
          "data": {"name": "B_red"},
          "mark": {"type": "text", "font": "Liberation Serif", "fontSize": 20, "lineHeight": 21, "color": "#c62f2f", "align": "center", "baseline": "middle"},
          "encoding": {
            "x": {"field": "x", "type": "quantitative", "axis": null},
            "y": {"field": "y", "type": "quantitative", "axis": null},
            "text": {"field": "t"}
          }
        },
        {
          "data": {"name": "B_blue"},
          "mark": {"type": "text", "font": "Liberation Serif", "fontSize": 20, "color": "#4a22e0", "align": "center", "baseline": "middle"},
          "encoding": {
            "x": {"field": "x", "type": "quantitative", "axis": null},
            "y": {"field": "y", "type": "quantitative", "axis": null},
            "text": {"field": "t"}
          }
        },
        {
          "data": {"name": "B_lab"},
          "mark": {"type": "text", "font": "Liberation Serif", "fontSize": 20, "fontWeight": "bold", "color": "black", "align": "left", "baseline": "middle"},
          "encoding": {
            "x": {"field": "x", "type": "quantitative", "axis": null},
            "y": {"field": "y", "type": "quantitative", "axis": null},
            "text": {"field": "t"}
          }
        }
      ]
    }
  ]
}
